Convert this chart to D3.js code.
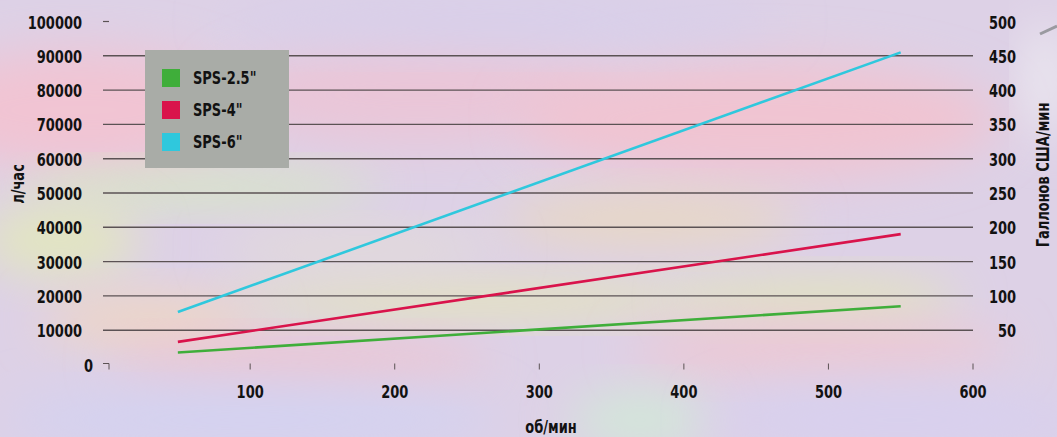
<!DOCTYPE html>
<html lang="ru">
<head>
<meta charset="UTF-8">
<title>SPS</title>
<script src="https://d3js.org/d3.v7.min.js"></script>
<style>
    body { margin: 0; background: #e2d4e6; }
    svg { display: block; }
    .lbl { font-family: "DejaVu Sans Condensed", "DejaVu Sans", sans-serif; font-weight: bold; font-size: 17px; fill: #121212; }
</style>
</head>
<body>
<svg id="chart"></svg>
<script>
const width = 1057, height = 437;

// data
const rpm = [50, 550];
const series = [
    { name: 'SPS-2.5"', color: "#3fae3a", values: [3500, 17000] },
    { name: 'SPS-4"',   color: "#d9134b", values: [6600, 38000] },
    { name: 'SPS-6"',   color: "#2fc8dd", values: [15300, 91000] }
];
const xTicks = [100, 200, 300, 400, 500, 600];
const yTicks = [0, 10000, 20000, 30000, 40000, 50000, 60000, 70000, 80000, 90000, 100000];
const yRightTicks = [50, 100, 150, 200, 250, 300, 350, 400, 450, 500];

const svg = d3.select("#chart").attr("width", width).attr("height", height);

// pastel mottled background
const defs = svg.append("defs");
defs.append("filter").attr("id", "blur")
    .attr("x", "-50%").attr("y", "-50%").attr("width", "200%").attr("height", "200%")
    .append("feGaussianBlur").attr("stdDeviation", 24);

const bg = svg.append("g");
bg.append("rect").attr("width", width).attr("height", height).attr("fill", "#ddd1e6");
const blobs = [
    [80, 110, 170, 60, "#f1c4d3"], [420, 95, 200, 50, "#eac6d8"], [760, 120, 240, 60, "#f0c4d2"],
    [200, 188, 180, 18, "#d6e8c2"], [60, 240, 80, 36, "#e2e6c0"], [650, 220, 150, 26, "#e8d8c2"],
    [480, 300, 250, 18, "#e4e6b8"], [820, 300, 140, 22, "#e2e4bc"], [150, 320, 110, 26, "#eed6c4"],
    [300, 362, 190, 22, "#eec4d0"], [820, 350, 190, 26, "#eec8d2"], [250, 420, 250, 36, "#d4d2f0"],
    [640, 420, 70, 28, "#d2e8d8"], [900, 420, 190, 36, "#d8d0ee"], [500, 20, 280, 26, "#d8cfea"],
    [360, 250, 140, 20, "#e2dcd8"], [1045, 80, 18, 60, "#efeef2"]
];
bg.selectAll("ellipse").data(blobs).join("ellipse")
    .attr("cx", d => d[0]).attr("cy", d => d[1]).attr("rx", d => d[2]).attr("ry", d => d[3])
    .attr("fill", d => d[4]).attr("filter", "url(#blur)");
bg.append("line").attr("x1", 1040).attr("y1", 34).attr("x2", 1057).attr("y2", 26)
    .attr("stroke", "#9a9aa0").attr("stroke-width", 3);

const x = d3.scaleLinear().domain([0, 600]).range([105.6, 973]);
const y = d3.scaleLinear().domain([0, 100000]).range([364.5, 21.5]);
const yR = d3.scaleLinear().domain([0, 500]).range([364.5, 21.5]);

const gridLeft = 103;

// gridlines
svg.append("g").selectAll("line")
    .data(yTicks.filter(d => d > 0 && d < 100000))
    .join("line")
    .attr("x1", gridLeft).attr("x2", x(600))
    .attr("y1", d => y(d)).attr("y2", d => y(d))
    .attr("stroke", "#5b5254").attr("stroke-width", 1.4);

// top dash and corner mark
svg.append("line").attr("x1", gridLeft).attr("x2", gridLeft + 6)
    .attr("y1", y(100000)).attr("y2", y(100000))
    .attr("stroke", "#5b5254").attr("stroke-width", 1.2);
svg.append("path")
    .attr("d", `M${gridLeft},${y(0) - 1}H${gridLeft + 6}V${y(0) + 5}`)
    .attr("fill", "none").attr("stroke", "#5b5254").attr("stroke-width", 1);

// x tick marks
svg.append("g").selectAll("line").data(xTicks).join("line")
    .attr("x1", d => x(d)).attr("x2", d => x(d))
    .attr("y1", y(0) - 1).attr("y2", y(0) + 5)
    .attr("stroke", "#5b5254").attr("stroke-width", 1);

const sx = 0.85;

// left labels
svg.append("g").selectAll("text").data(yTicks).join("text")
    .attr("class", "lbl").attr("text-anchor", "end")
    .attr("transform", d => `translate(${d === 0 ? 93 : 82},${y(d) + 7}) scale(${sx},1)`)
    .text(d => d);

// right labels
svg.append("g").selectAll("text").data(yRightTicks).join("text")
    .attr("class", "lbl").attr("text-anchor", "end")
    .attr("transform", d => `translate(1016,${yR(d) + 7}) scale(${sx},1)`)
    .text(d => d);

// bottom labels
svg.append("g").selectAll("text").data(xTicks).join("text")
    .attr("class", "lbl").attr("text-anchor", "middle")
    .attr("transform", d => `translate(${x(d)},398) scale(${sx},1)`)
    .text(d => d);

// axis titles
svg.append("text").attr("class", "lbl").attr("text-anchor", "middle")
    .attr("transform", `translate(24,184) rotate(-90) scale(${sx},1)`).text("л/час");
svg.append("text").attr("class", "lbl").attr("text-anchor", "middle")
    .attr("transform", `translate(1049,175) rotate(-90) scale(${sx},1)`).text("Галлонов США/мин");
svg.append("text").attr("class", "lbl").attr("text-anchor", "middle")
    .attr("transform", `translate(551,433) scale(${sx},1)`).text("об/мин");

// lines
const line = d3.line().x((d, i) => x(rpm[i])).y(d => y(d));
svg.append("g").selectAll("path").data(series).join("path")
    .attr("d", d => line(d.values))
    .attr("fill", "none").attr("stroke", d => d.color).attr("stroke-width", 2.6);

// legend
const legend = svg.append("g");
legend.append("rect").attr("x", 145).attr("y", 50).attr("width", 144).attr("height", 118)
    .attr("fill", "#a9aca7");
const item = legend.selectAll("g.item").data(series).join("g")
    .attr("class", "item")
    .attr("transform", (d, i) => `translate(162,${69 + i * 32})`);
item.append("rect").attr("width", 18).attr("height", 18).attr("fill", d => d.color);
item.append("text").attr("class", "lbl")
    .attr("transform", `translate(31,15) scale(${sx},1)`)
    .text(d => d.name);
</script>
</body>
</html>
